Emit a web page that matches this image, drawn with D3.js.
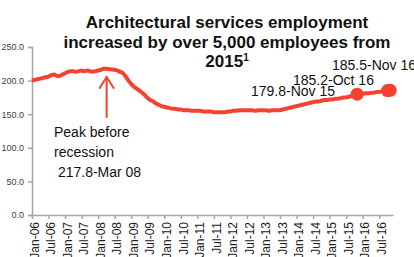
<!DOCTYPE html>
<html>
<head>
<meta charset="utf-8">
<script src="https://cdn.jsdelivr.net/npm/d3@7/dist/d3.min.js"></script>
<style>
  body { margin: 0; background: #fff; }
  svg { display: block; font-family: "Liberation Sans", Arial, sans-serif; }
</style>
</head>
<body>
<div id="chart"></div>
<script>
// monthly, Jan-06 .. Nov-16 (thousands)
const years = ['06', '07', '08', '09', '10', '11', '12', '13', '14', '15', '16']
const monthNames = ['Jan', 'Feb', 'Mar', 'Apr', 'May', 'Jun', 'Jul', 'Aug', 'Sep', 'Oct', 'Nov', 'Dec']
const employment = [
  200, 201, 202, 203, 204, 205, 206, 208, 209, 207, 207, 209,
  211, 213, 214, 214, 213, 214, 215, 214, 215, 214, 213, 214,
  215, 216, 217.8, 217.5, 217, 216.5, 216, 215, 213, 211, 206, 200,
  195, 191, 188, 185, 182, 178, 174, 171, 169, 166, 164, 162,
  161, 160, 159, 158, 158, 157, 157, 156, 156, 156, 155, 155,
  155, 155, 154, 154, 154, 154, 153, 153, 153, 153, 153, 154,
  154, 155, 155, 156, 156, 156, 156, 156, 156, 155, 156, 156,
  156, 156, 155, 156, 156, 156, 156, 157, 158, 159, 160, 161,
  162, 163, 164, 165, 166, 167, 168, 169, 169, 170, 171, 171,
  172, 172, 173, 173, 174, 175, 175, 176, 177, 178, 179.8, 180,
  180, 181, 181, 182, 182, 183, 183, 184, 184, 185.2, 185.5
]
const months = employment.map((v, i) => monthNames[i % 12] + '-' + years[Math.floor(i / 12)])
const yTicks = [0, 50, 100, 150, 200, 250]
const highlighted = [118, 129, 130]
const pointLabels = ['179.8-Nov 15', '185.2-Oct 16', '185.5-Nov 16']
const peakIndex = 26
const peakLabel = ['Peak before', 'recession', ' 217.8-Mar 08']
const titleLines = ['Architectural services employment', 'increased by over 5,000 employees from']

const width = 414, height = 257
const red = '#f5412f'
const axisGrey = '#a6a6a6'

const svg = d3.select('#chart').append('svg')
    .attr('width', width)
    .attr('height', height)

const x = d3.scaleLinear()
    .domain([0, employment.length])
    .range([32, 393])

const y = d3.scaleLinear()
    .domain([0, 250])
    .range([215, 47])

// y axis
const yAxis = svg.append('g')
    .attr('transform', 'translate(32,0)')
    .call(d3.axisLeft(y).tickValues(yTicks).tickFormat(d3.format('.1f')).tickSize(4).tickPadding(4))
yAxis.select('.domain').attr('stroke', axisGrey).attr('stroke-width', 1.5)
yAxis.selectAll('.tick line').attr('stroke', axisGrey).attr('stroke-width', 1.5)
yAxis.selectAll('text').attr('fill', '#404040').style('font-size', '9px')

// x axis, label every 6 months
const xTickIdx = d3.range(0, employment.length, 6)
const xAxis = svg.append('g')
    .attr('transform', 'translate(0,215)')
    .call(d3.axisBottom(x).tickValues(xTickIdx).tickFormat(i => months[i]).tickSize(4).tickSizeOuter(0))
xAxis.select('.domain').attr('stroke', axisGrey).attr('stroke-width', 1.5)
xAxis.selectAll('.tick line').attr('stroke', axisGrey).attr('stroke-width', 1.5)
xAxis.selectAll('text')
    .attr('fill', '#202020')
    .style('font-size', '12px')
    .style('text-anchor', 'end')
    .attr('transform', 'rotate(-90)')
    .attr('x', -7)
    .attr('y', 2)
    .attr('dy', '0.35em')

// line
const line = d3.line()
    .x((d, i) => x(i))
    .y(d => y(d))
    .curve(d3.curveMonotoneX)

svg.append('path')
    .datum(employment)
    .attr('fill', 'none')
    .attr('stroke', red)
    .attr('stroke-width', 4)
    .attr('stroke-linejoin', 'round')
    .attr('d', line)

svg.selectAll('circle.hl')
  .data(highlighted)
  .enter().append('circle')
    .attr('class', 'hl')
    .attr('cx', i => x(i))
    .attr('cy', i => y(employment[i]))
    .attr('r', 6.5)
    .attr('fill', red)

// point labels
const labelPos = [[251, 96], [293, 85], [332, 70]]
svg.selectAll('text.pl')
  .data(pointLabels)
  .enter().append('text')
    .attr('class', 'pl')
    .attr('x', (d, i) => labelPos[i][0])
    .attr('y', (d, i) => labelPos[i][1])
    .style('font-size', '14px')
    .attr('fill', '#111')
    .text(d => d)

// peak arrow
const ax = x(peakIndex) + 3
const arrow = svg.append('g')
    .attr('stroke', red)
    .attr('stroke-width', 2)
    .attr('fill', 'none')
    .attr('stroke-linecap', 'round')
arrow.append('line').attr('x1', ax).attr('x2', ax).attr('y1', 77).attr('y2', 117)
arrow.append('polyline').attr('points', `${ax - 7},88 ${ax},77 ${ax + 7},88`)

svg.selectAll('text.peak')
  .data(peakLabel)
  .enter().append('text')
    .attr('class', 'peak')
    .attr('x', 54)
    .attr('y', (d, i) => 137 + i * 20)
    .attr('xml:space', 'preserve')
    .style('font-size', '14px')
    .attr('fill', '#111')
    .text(d => d)

// title
const title = svg.append('g')
    .attr('text-anchor', 'middle')
    .style('font-size', '17px')
    .style('font-weight', 'bold')
    .attr('fill', '#111')
title.selectAll('text.t')
  .data(titleLines)
  .enter().append('text')
    .attr('class', 't')
    .attr('x', 227)
    .attr('y', (d, i) => 28 + i * 19.5)
    .text(d => d)
const last = title.append('text').attr('x', 227).attr('y', 67)
last.append('tspan').text('2015')
last.append('tspan').attr('dy', -6).style('font-size', '10px').text('1')
</script>
</body>
</html>
